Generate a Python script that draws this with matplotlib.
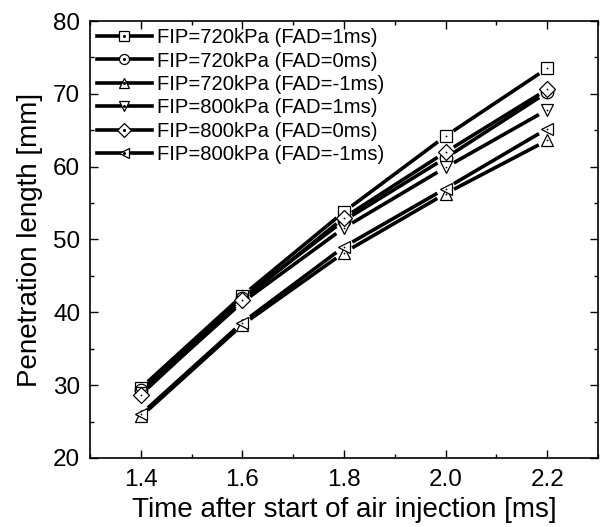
import numpy as np
import matplotlib
matplotlib.use("Agg")
import matplotlib.pyplot as plt
from matplotlib.lines import Line2D

plt.rcParams['font.family'] = ['Liberation Sans', 'DejaVu Sans']

# ----------------------------------------------------------------------
time_ms = [1.4, 1.6, 1.8, 2.0, 2.2]

fip720_fad1 = [29.6, 42.3, 53.8, 64.2, 73.5]
fip720_fad0 = [29.3, 42.0, 52.6, 61.2, 70.2]
fip720_fadm1 = [25.7, 38.3, 48.2, 56.3, 63.6]
fip800_fad1 = [28.9, 41.4, 51.6, 59.9, 67.8]
fip800_fad0 = [28.7, 41.7, 53.0, 62.0, 70.6]
fip800_fadm1 = [26.0, 38.6, 49.0, 57.0, 65.2]

labels = ["FIP=720kPa (FAD=1ms)", "FIP=720kPa (FAD=0ms)", "FIP=720kPa (FAD=-1ms)",
          "FIP=800kPa (FAD=1ms)", "FIP=800kPa (FAD=0ms)", "FIP=800kPa (FAD=-1ms)"]
markers = ['s', 'o', '^', 'v', 'D', '<']
# ----------------------------------------------------------------------

series = [fip720_fad1, fip720_fad0, fip720_fadm1, fip800_fad1, fip800_fad0, fip800_fadm1]

fig = plt.figure(figsize=(6.01, 5.27), dpi=100)
ax = fig.add_axes([90 / 601, 69 / 527, 508 / 601, 437 / 527])
ax.set_xlim(1.3, 2.3)
ax.set_ylim(20, 80)

MS = 9.0
LW = 2.6
GAP = 9.5  # px between line end and marker centre

handles = []
for i, (yv, mk, lab) in enumerate(zip(series, markers, labels)):
    pts = ax.transData.transform(np.column_stack([time_ms, yv]))
    for p0, p1 in zip(pts[:-1], pts[1:]):
        d = (p1 - p0) / np.hypot(*(p1 - p0))
        a = ax.transData.inverted().transform([p0 + d * GAP, p1 - d * GAP])
        ax.plot(a[:, 0], a[:, 1], color='black', lw=LW, solid_capstyle='butt', zorder=2)
    ms = MS * (0.95 if mk == 'D' else 1.0)
    ax.plot(time_ms, yv, ls='none', marker=mk, ms=ms, mfc='white', mec='black',
            mew=0.9, zorder=3 + i * 0.1)
    ax.plot(time_ms, yv, ls='none', marker='o', ms=1.3, mfc='black', mec='black',
            mew=0, zorder=3.05 + i * 0.1)
    h_line = Line2D([], [], color='black', lw=LW, marker=mk, ms=ms * 0.8,
                    mfc='white', mec='black', mew=0.9)
    h_dot = Line2D([], [], ls='none', marker='o', ms=1.2, color='black')
    handles.append((h_line, h_dot))

ax.legend(handles, labels, loc='upper left', frameon=False, fontsize=14.6,
          handlelength=2.7, handletextpad=0.25, labelspacing=0.22,
          borderpad=0.3, borderaxespad=0.05)

ax.set_xticks(time_ms)
ax.set_xticklabels([f"{t:.1f}" for t in time_ms])
ax.set_xticks(np.arange(1.3, 2.31, 0.1), minor=True)
ax.set_yticks(np.arange(20, 81, 10))
ax.set_yticks(np.arange(20, 81, 5), minor=True)
ax.tick_params(which='both', direction='in', top=True, right=True, labelsize=17.5, width=1)
ax.tick_params(which='major', length=6)
ax.tick_params(which='minor', length=3)
ax.tick_params(axis='x', which='major', pad=8)
ax.tick_params(axis='y', which='major', pad=7)
for s in ax.spines.values():
    s.set_linewidth(1.2)

ax.set_xlabel("Time after start of air injection [ms]", fontsize=20, labelpad=4)
ax.set_ylabel("Penetration length [mm]", fontsize=20, labelpad=7)

fig.savefig("out.png", dpi=100)
